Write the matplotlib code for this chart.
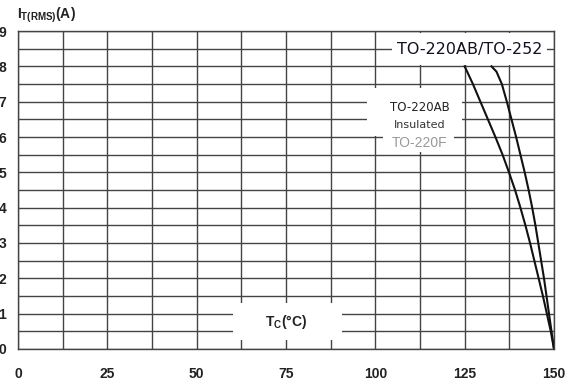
import matplotlib
matplotlib.use("Agg")
import matplotlib.pyplot as plt
from matplotlib.patches import Rectangle

plt.rcParams['mathtext.fontset'] = 'custom'
plt.rcParams['mathtext.rm'] = 'Liberation Sans'
plt.rcParams['mathtext.bf'] = 'Liberation Sans:bold'

# Data
x_ticks = [0, 25, 50, 75, 100, 125, 150]
y_ticks = [0, 1, 2, 3, 4, 5, 6, 7, 8, 9]

insulated_T = [125.0, 127.3, 129.4, 131.5, 133.6, 135.6, 137.4, 139.1, 140.6, 142.0, 143.3, 144.5, 145.7, 146.9, 148.0, 149.1, 150.0]
insulated_I = [8.0, 7.5, 7.0, 6.5, 6.0, 5.5, 5.0, 4.5, 4.0, 3.5, 3.0, 2.5, 2.0, 1.5, 1.0, 0.5, 0.0]

std_T = [132.5, 133.9, 135.4, 136.8, 138.1, 139.4, 140.6, 141.8, 142.9, 143.9, 144.8, 145.6, 146.4, 147.2, 147.9, 148.6, 149.3, 150.0]
std_I = [8.0, 7.85, 7.5, 7.0, 6.5, 6.0, 5.5, 5.0, 4.5, 4.0, 3.5, 3.0, 2.5, 2.0, 1.5, 1.0, 0.5, 0.0]

fig = plt.figure(figsize=(5.74, 3.87), dpi=100)
ax = fig.add_axes([18/574, 38/387, 536/574, 318/387])
ax.set_xlim(0, 150)
ax.set_ylim(0, 9)

grid_c = '#444444'
# grid lines
for i in range(13):
    ax.axvline(i * 12.5, color=grid_c, lw=1.0, zorder=1)
for j in range(19):
    ax.axhline(j * 0.5, color=grid_c, lw=1.0, zorder=1)

for s in ax.spines.values():
    s.set_color(grid_c)
    s.set_linewidth(1.0)
    s.set_zorder(1)

# white label boxes hiding grid
boxes = [
    (104.6, 8.04, 148.0 - 104.6, 8.95 - 8.04),
    (97.7, 6.03, 124.2 - 97.7, 7.39 - 6.03),
    (102.2, 5.57, 122.0 - 102.2, 6.03 - 5.57),
    (60.2, 0.25, 90.7 - 60.2, 1.3 - 0.25),
]
for (x0, y0, w, h) in boxes:
    ax.add_patch(Rectangle((x0, y0), w, h, facecolor='white', edgecolor='none', zorder=2))

ax.plot(insulated_T, insulated_I, color='#111111', lw=1.5, zorder=3, solid_joinstyle='round')
ax.plot(std_T, std_I, color='#111111', lw=1.5, zorder=3, solid_joinstyle='round')

ax.set_xticks(x_ticks)
ax.set_yticks(y_ticks)
ax.tick_params(axis='both', length=0)
ax.tick_params(axis='x', pad=13)
ax.tick_params(axis='y', pad=8.5)
for lab in ax.get_xticklabels() + ax.get_yticklabels():
    lab.set_fontfamily('Liberation Sans')
    lab.set_fontweight('bold')
    lab.set_fontsize(10)
    lab.set_color('#222222')

ax.text(126.5, 8.47, 'TO-220AB/TO-252', ha='center', va='center',
        fontsize=11.5, family='DejaVu Sans', color='#111122', zorder=4)
ax.text(112.5, 6.84, 'TO-220AB', ha='center', va='center',
        fontsize=8.5, family='Liberation Sans Narrow', color='#222222', zorder=4)
ax.text(112.5, 6.34, 'Insulated', ha='center', va='center',
        fontsize=8, family='Liberation Sans Narrow', color='#333333', zorder=4)
ax.text(112.5, 5.82, 'TO-220F', ha='center', va='center',
        fontsize=10, family='Liberation Sans', color='#999999', zorder=4)
ax.text(75, 0.77, r'$\mathbf{T}_{\mathbf{C}}\mathbf{(°C)}$', ha='center', va='center',
        fontsize=10, color='#222222', zorder=4)

fig.text(17/574, 1 - 15/387, r'$\mathbf{I}_{\mathbf{T(RMS)}}\mathbf{(A)}$', ha='left', va='center',
         fontsize=10, color='#222222')

fig.savefig('out.png', dpi=100)
